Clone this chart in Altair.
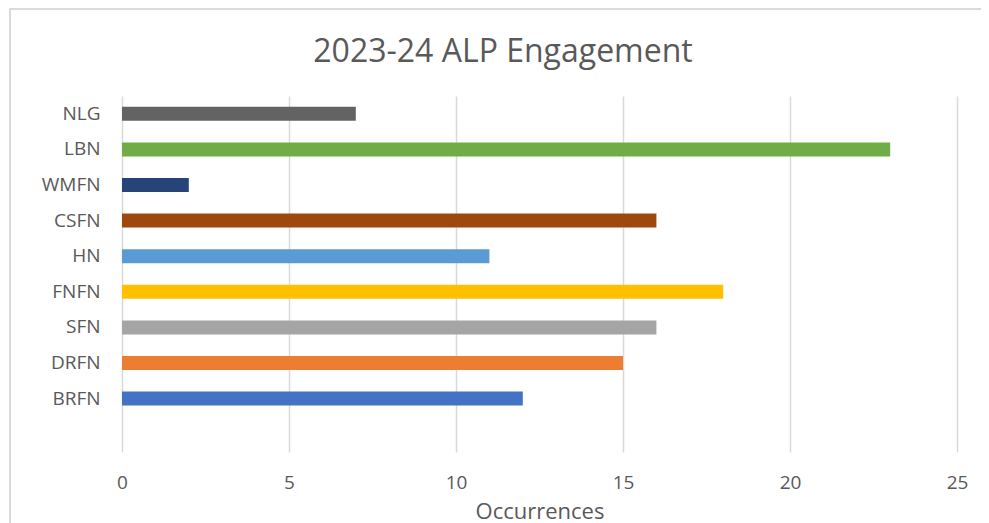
import altair as alt
import pandas as pd

# Data (top to bottom as shown)
categories = ["NLG", "LBN", "WMFN", "CSFN", "HN", "FNFN", "SFN", "DRFN", "BRFN"]
occurrences = [7, 23, 2, 16, 11, 18, 16, 15, 12]
x_ticks = [0, 5, 10, 15, 20, 25]
chart_title = "2023-24 ALP Engagement"

bar_colors = ["#636363", "#70AD47", "#264478", "#9E480E", "#5B9BD5",
              "#FFC000", "#A5A5A5", "#ED7D31", "#4472C4"]

df = pd.DataFrame({"Network": categories, "Occurrences": occurrences})

FONT = "Open Sans"
TXT = "#595959"

W, H = 835, 356

one = pd.DataFrame({"t": [chart_title]})

border = alt.Chart(one).mark_rect(
    fill="white", fillOpacity=0, stroke="#d0d0d0", strokeWidth=1.5
).encode(
    x=alt.value(-112), x2=alt.value(W + 100),
    y=alt.value(-87), y2=alt.value(H + 120)
)

title = alt.Chart(one).mark_text(
    font=FONT, fontSize=32, color=TXT, align="center", baseline="alphabetic"
).encode(x=alt.value(381), y=alt.value(-34), text="t:N")

bars = alt.Chart(df).mark_bar(size=14).encode(
    x=alt.X("Occurrences:Q",
            scale=alt.Scale(domain=[0, 25], nice=False),
            axis=alt.Axis(values=x_ticks, grid=True, gridColor="#d9d9d9", gridWidth=1.5,
                          domain=False, ticks=False, labelFontSize=19, labelColor=TXT,
                          labelFont=FONT, labelPadding=21, labelFlush=False,
                          title="Occurrences",
                          titleFontSize=22, titleFont=FONT, titleColor=TXT,
                          titleFontWeight="normal", titlePadding=9)),
    y=alt.Y("Network:N",
            scale=alt.Scale(domain=categories + [""], paddingInner=0, paddingOuter=0),
            axis=alt.Axis(domain=False, ticks=False, grid=False, labelFontSize=19,
                          labelColor=TXT, labelFont=FONT, labelPadding=22, title=None)),
    color=alt.Color("Network:N", scale=alt.Scale(domain=categories, range=bar_colors),
                    legend=None),
)

chart = alt.layer(border, title, bars).properties(
    width=W, height=H,
    autosize=alt.AutoSizeParams(type="none"),
    padding={"left": 114, "top": 88, "right": 24, "bottom": 71},
).configure_view(stroke=None)

chart.save("out.html", embed_options={"renderer": "svg", "actions": False})
